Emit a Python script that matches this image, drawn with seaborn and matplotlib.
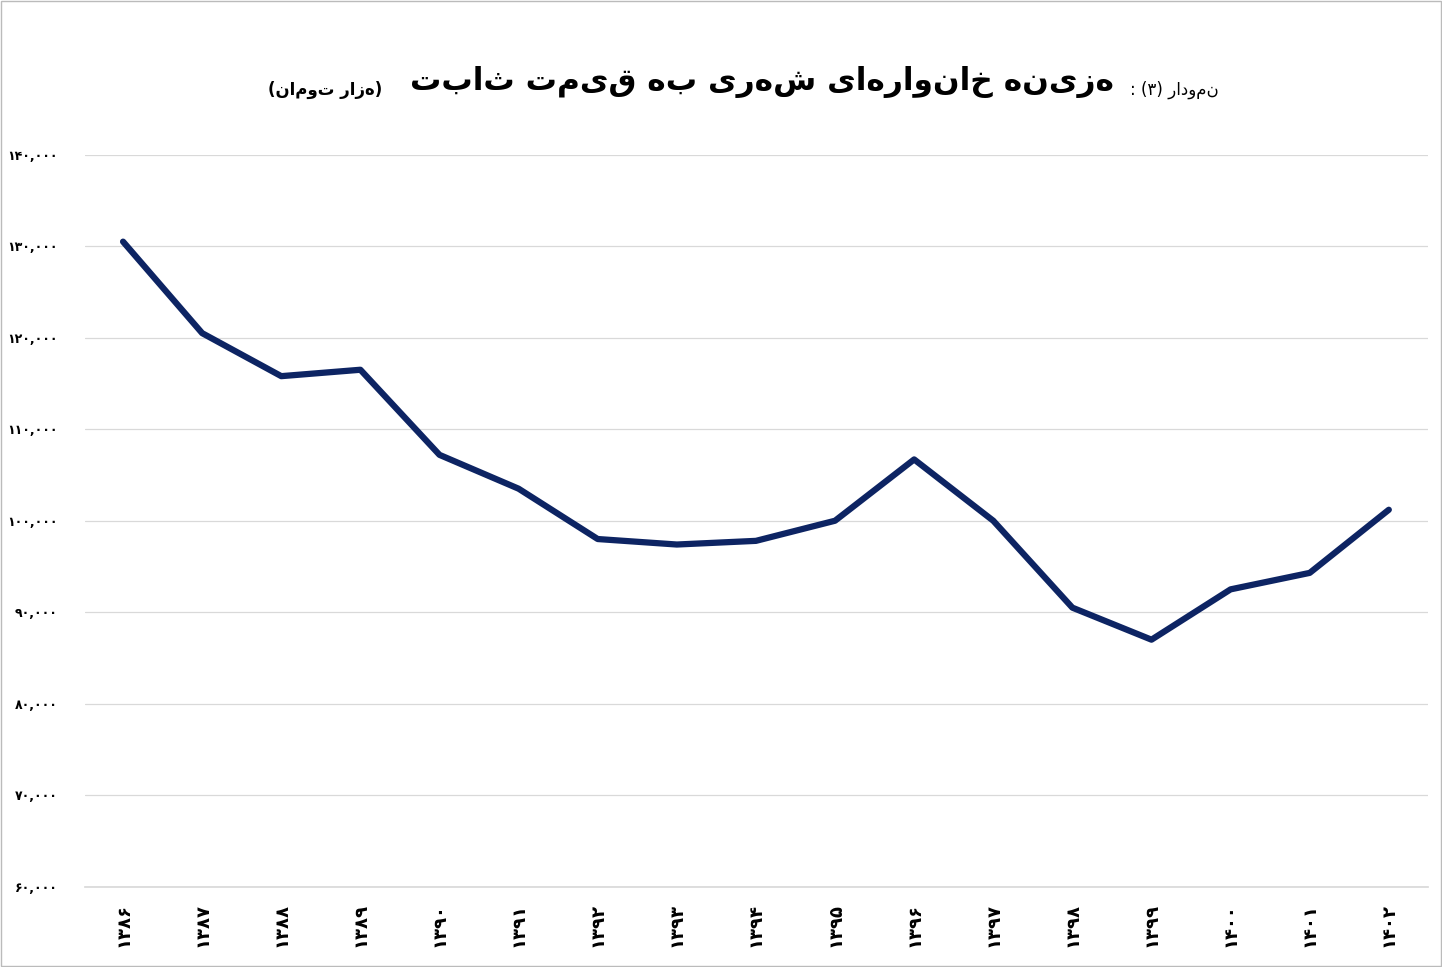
import matplotlib
matplotlib.use("Agg")
import matplotlib.pyplot as plt
import seaborn as sns
import pandas as pd

years = ["۱۳۸۶","۱۳۸۷","۱۳۸۸","۱۳۸۹","۱۳۹۰","۱۳۹۱","۱۳۹۲","۱۳۹۳","۱۳۹۴",
         "۱۳۹۵","۱۳۹۶","۱۳۹۷","۱۳۹۸","۱۳۹۹","۱۴۰۰","۱۴۰۱","۱۴۰۲"]
values = [130500,120500,115800,116500,107200,103500,98000,97400,97800,
          100000,106700,100000,90500,87000,92500,94300,101200]
yticks = [60000,70000,80000,90000,100000,110000,120000,130000,140000]
ytick_labels = ["۶۰,۰۰۰","۷۰,۰۰۰","۸۰,۰۰۰","۹۰,۰۰۰","۱۰۰,۰۰۰","۱۱۰,۰۰۰","۱۲۰,۰۰۰","۱۳۰,۰۰۰","۱۴۰,۰۰۰"]
title = "هزینه خانوارهای شهری به قیمت ثابت"
prefix = "نمودار (۳) :"
unit = "(هزار تومان)"

def rtl(s):
    s = s[::-1]
    return s.translate(str.maketrans("()", ")("))

sns.set_theme(style="white")
plt.rcParams['font.family'] = ['DejaVu Sans']

fig = plt.figure(figsize=(14.42, 9.67), dpi=100)
ax = fig.add_axes([0.059, 0.083, 0.931, 0.757])
df = pd.DataFrame({"x": range(len(years)), "y": values})
sns.lineplot(data=df, x="x", y="y", ax=ax, color="#0d2463", linewidth=4.5,
             solid_joinstyle="round", solid_capstyle="round")
ax.set_xlim(-0.48, len(years) - 0.51)
ax.set_ylim(60000, 140000)
ax.set_yticks(yticks)
ax.set_yticklabels(ytick_labels, fontsize=9, fontweight="bold", color="black")
ax.set_xticks(range(len(years)))
ax.set_xticklabels(years, rotation=90, fontsize=13, fontweight="bold", color="black")
ax.grid(axis="y", color="#d9d9d9", linewidth=0.9)
for s in ax.spines.values():
    s.set_visible(False)
ax.spines["bottom"].set_visible(True)
ax.spines["bottom"].set_color("#d9d9d9")
ax.tick_params(axis="y", pad=20, length=0)
ax.tick_params(axis="x", length=0, pad=12)
ax.set_xlabel("")
ax.set_ylabel("")

fig.text(0.5285, 0.915, rtl(title), fontsize=22.5, fontweight="bold", ha="center", va="center", color="black")
fig.text(0.845, 0.907, rtl(prefix), fontsize=12, ha="right", va="center", color="black")
fig.text(0.265, 0.907, rtl(unit), fontsize=12, fontweight="bold", ha="right", va="center", color="black")
fig.patches.append(plt.Rectangle((0.001, 0.001), 0.998, 0.998, transform=fig.transFigure,
                                 fill=False, edgecolor="#bbbbbb", linewidth=1))
fig.savefig("out.png", dpi=100)
